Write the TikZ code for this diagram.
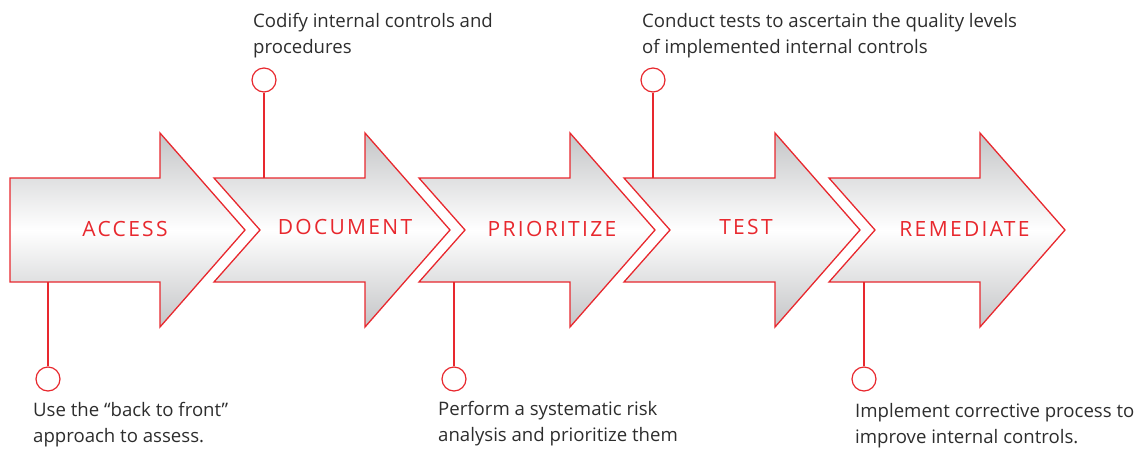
\documentclass[tikz,border=0pt]{standalone}
\usepackage{fontspec}
\setmainfont{Open Sans}
\newfontfamily\stagefont[LetterSpace=11]{Open Sans}
\definecolor{stagered}{RGB}{232,40,46}
\definecolor{notegray}{RGB}{45,45,45}
\definecolor{shadegray}{RGB}{196,197,199}

\tikzset{
  stagearrow/.style={draw=stagered, line width=1.3pt, line join=miter,
    top color=shadegray, bottom color=shadegray, middle color=white},
  stagelabel/.style={text=stagered, font=\stagefont\fontsize{21}{24}\selectfont,
    inner sep=0pt, anchor=base},
  pin/.style={circle, draw=stagered, line width=1.2pt, fill=white,
    minimum size=24pt, inner sep=0pt},
  pinline/.style={draw=stagered, line width=1.2pt},
  % base anchor of a two-line note sits on its second line
  note/.style={text=notegray, font=\fontsize{18.6}{26}\selectfont,
    align=left, inner sep=0pt, anchor=base west}
}

% one step of the process chain, shifted by #1 (first step has a flat tail)
\newcommand\firststep{%
  \path[stagearrow] (10,178) -- (160,178) -- (160,133) -- (245,230)
    -- (160,327) -- (160,282) -- (10,282) -- cycle;}
\newcommand\chainstep[1]{%
  \path[stagearrow, xshift=#1pt] (9,178) -- (160,178) -- (160,133) -- (245,230)
    -- (160,327) -- (160,282) -- (9,282) -- (55,230) -- cycle;}

\begin{document}
\begin{tikzpicture}[x=1pt, y=-1pt]
  \useasboundingbox (0,0) rectangle (1136,448);

  % arrows
  \firststep
  \chainstep{205}
  \chainstep{410}
  \chainstep{615}
  \chainstep{820}

  % stage names
  \node[stagelabel] (access)   at (125,236)   {ACCESS};
  \node[stagelabel] (document) at (345,234)   {DOCUMENT};
  \node[stagelabel] (prior)    at (552,236)   {PRIORITIZE};
  \node[stagelabel] (test)     at (746,234)   {TEST};
  \node[stagelabel] (remed)    at (964.5,236) {REMEDIATE};

  % attachment points on the arrow bodies
  \coordinate (accessfoot) at (48,282);
  \coordinate (docfoot)    at (264,178);
  \coordinate (priorfoot)  at (454,282);
  \coordinate (testfoot)   at (653,178);
  \coordinate (remedfoot)  at (864,282);

  % pins
  \node[pin] (accesspin) at (48,379) {};
  \node[pin] (docpin)    at (264,80) {};
  \node[pin] (priorpin)  at (454,379) {};
  \node[pin] (testpin)   at (653,80) {};
  \node[pin] (remedpin)  at (864,379) {};

  \draw[pinline] (accessfoot) -- (accesspin);
  \draw[pinline] (docfoot)    -- (docpin);
  \draw[pinline] (priorfoot)  -- (priorpin);
  \draw[pinline] (testfoot)   -- (testpin);
  \draw[pinline] (remedfoot)  -- (remedpin);

  % descriptions
  \node[note] (accessnote) at (33,442)  {Use the “back to front”\\approach to assess.};
  \node[note] (docnote)    at (253,53)  {Codify internal controls and\\procedures};
  \node[note] (priornote)  at (438,441) {Perform a systematic risk\\analysis and prioritize them};
  \node[note] (testnote)   at (642,53)  {Conduct tests to ascertain the quality levels\\of implemented internal controls};
  \node[note] (remednote)  at (855,443) {Implement corrective process to\\improve internal controls.};
\end{tikzpicture}
\end{document}
